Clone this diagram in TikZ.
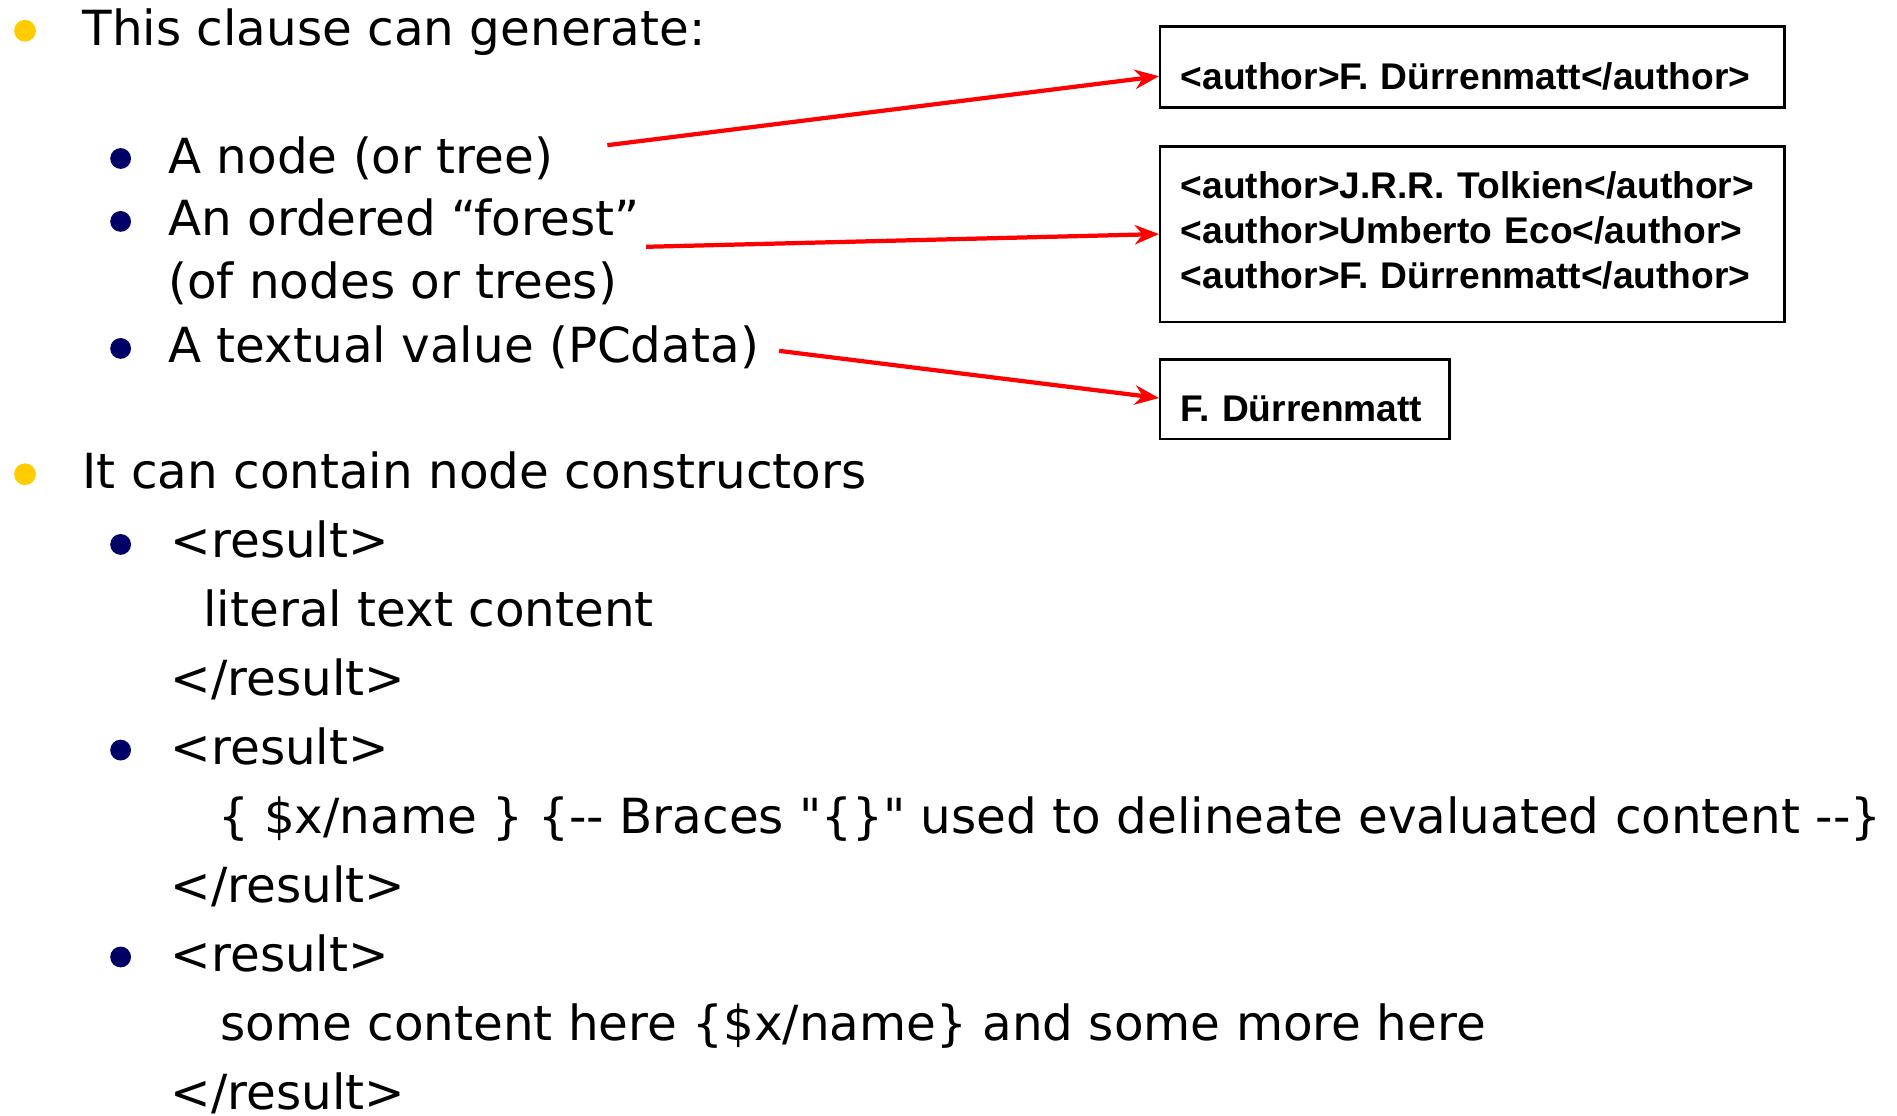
\documentclass[tikz,border=0pt]{standalone}
\usepackage{fontspec}
\newfontfamily\vfont{DejaVu Sans}
\newfontfamily\afont{Liberation Sans}
\usetikzlibrary{arrows.meta}
\definecolor{bulletyellow}{HTML}{FFCC00}
\definecolor{bulletnavy}{HTML}{000066}
\definecolor{arrowred}{HTML}{FF0000}
\begin{document}
\begin{tikzpicture}[x=1pt,y=-1pt,
  txt/.style={anchor=base west, inner sep=0pt, font=\vfont\fontsize{40}{48}\selectfont},
  box/.style={draw=black, line width=2pt, anchor=north west, inner xsep=17pt, inner ysep=0pt,
    align=left, font=\afont\bfseries\fontsize{30.7}{37}\selectfont},
  link/.style={draw=arrowred, line width=3.5pt, -{Stealth[length=20pt,width=16pt]}},
  ybul/.style={fill=bulletyellow},
  nbul/.style={fill=bulletnavy}]
\useasboundingbox (0,0) rectangle (1568,922);
\fill[white] (0,0) rectangle (1568,922);

% top-level bullets
\fill[ybul] (20.7,25.4) circle [radius=9pt];
\fill[ybul] (20.7,392) circle [radius=9pt];
% sub bullets
\foreach \yy in {131,183,288,450,620,791}
  \fill[nbul] (99.7,\yy) circle [radius=8.6pt];

\node[txt] (t0) at (68,38) {This clause can generate:};
\node[txt] (t1) at (139,143) {A node (or tree)};
\node[txt] (t2) at (139,195) {An ordered “forest”};
\node[txt] (t3) at (139,247) {(of nodes or trees)};
\node[txt] (t4) at (139,300) {A textual value (PCdata)};
\node[txt] (t5) at (68,404) {It can contain node constructors};
\node[txt] (t6) at (141,461) {<result>};
\node[txt] (t7) at (168,518) {literal text content};
\node[txt] (t8) at (141,575) {</result>};
\node[txt] (t9) at (141,632) {<result>};
\node[txt] (t10) at (180,689) {\{ \$x/name \} \{-- Braces "\{\}" used to delineate evaluated content --\}};
\node[txt] (t11) at (141,746) {</result>};
\node[txt] (t12) at (141,803) {<result>};
\node[txt] (t13) at (182,860) {some content here \{\$x/name\} and some more here};
\node[txt] (t14) at (141,917) {</result>};

% boxes
\node[box, minimum width=516pt, minimum height=67pt, text width=482pt] (b1) at (958,21)
  {\raisebox{0pt}[\dimexpr\height+15pt\relax][\depth]{<author>F. Dürrenmatt</author>}};
\node[box, minimum width=516pt, minimum height=145pt, text width=482pt] (b2) at (958,120)
  {<author>J.R.R. Tolkien</author>\\<author>Umberto Eco</author>\\\raisebox{0pt}[\height][\dimexpr\depth+6pt\relax]{<author>F. Dürrenmatt</author>}};
\node[box, minimum width=239pt, minimum height=66pt, text width=205pt] (b3) at (958,296)
  {\raisebox{0pt}[\dimexpr\height+15pt\relax][\depth]{F. Dürrenmatt}};

% arrows
\coordinate (s1) at (502,120);
\coordinate (s2) at (534,204);
\coordinate (s3) at (644,290);
\draw[link] (s1) -- ([yshift=-7.5pt]b1.west);
\draw[link] (s2) -- (b2.west);
\draw[link] (s3) -- ([yshift=1pt]b3.west);
\end{tikzpicture}
\end{document}
